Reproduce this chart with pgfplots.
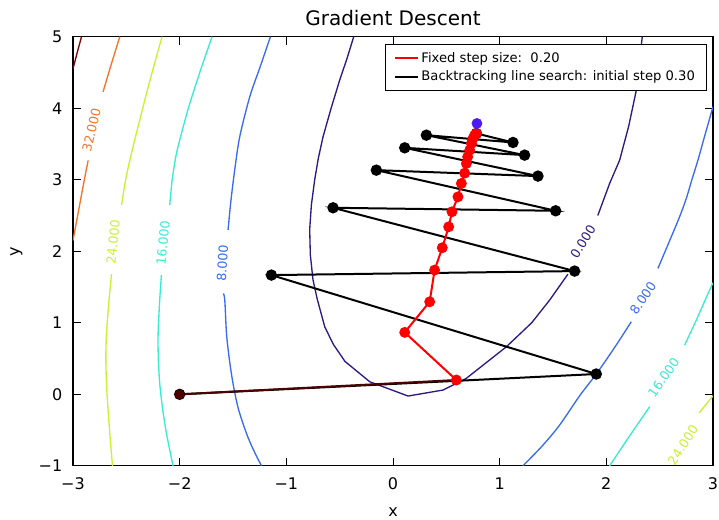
\documentclass[border=0pt]{standalone}
\usepackage{fontspec}
\setmainfont{DejaVu Sans}
\usepackage{pgfplots}
\pgfplotsset{compat=1.18}

% jet colours of the contour levels
\definecolor{c0}{rgb}{0.18,0.10,0.50}
\definecolor{c8}{rgb}{0.22,0.42,0.93}
\definecolor{c16}{rgb}{0.22,0.92,0.82}
\definecolor{c24}{rgb}{0.78,0.95,0.20}
\definecolor{c32}{rgb}{0.96,0.45,0.15}
\definecolor{c40}{rgb}{0.50,0.00,0.00}
\definecolor{optblue}{rgb}{0.30,0.10,0.95}
\definecolor{startred}{rgb}{0.30,0.00,0.00}

\begin{document}
\begin{tikzpicture}
\path[use as bounding box] (-54.75pt,-40pt) rectangle (484.5pt,349.4pt);
\begin{axis}[
  scale only axis, width=480pt, height=321.9pt,
  xmin=-3, xmax=3, ymin=-1, ymax=5,
  xtick={-3,...,3}, ytick={-1,...,5},
  xticklabels={−3,−2,−1,0,1,2,3}, yticklabels={−1,0,1,2,3,4,5},
  tick align=inside, major tick length=6pt,
  tick style={black, line width=0.6pt},
  tick label style={font=\fontsize{12}{14}\selectfont},
  xticklabel style={yshift=-5.5pt},
  yticklabel style={xshift=-4.5pt},
  axis line style={black, line width=0.8pt},
  xlabel={x}, ylabel={y},
  label style={font=\fontsize{12}{14}\selectfont},
  xlabel style={at={(axis description cs:0.5,-0.118)}, anchor=base},
  ylabel style={at={(axis description cs:-0.0886,0.5)}, anchor=center},
  title={Gradient Descent},
  title style={at={(axis description cs:0.5,1.008)}, anchor=base, font=\fontsize{15}{18}\selectfont},
  legend style={at={(axis description cs:1,1)}, anchor=north east, xshift=-4.7pt, yshift=-5.8pt,
    font=\fontsize{9.85}{12}\selectfont, draw=black, line width=0.8pt, row sep=1pt,
    inner xsep=6.5pt, inner ysep=3.5pt,
    /tikz/every even column/.append style={column sep=14pt}},
  legend cell align=left,
  contour/.style={line width=1pt, forget plot},
]

% contour level 0
\addplot[c0, contour] coordinates {(-0.368,5.0) (-0.43,4.70) (-0.5,4.392) (-0.58,4.0) (-0.656,3.6) (-0.70,3.3) (-0.734,3.0) (-0.765,2.65) (-0.781,2.306) (-0.775,1.95) (-0.75,1.6) (-0.71,1.33) (-0.64,0.945) (-0.56,0.70) (-0.45,0.46) (-0.218,0.176) (0.141,-0.024) (0.469,0.06) (0.688,0.224) (1.063,0.665) (1.30,1.0) (1.469,1.318) (1.64,1.68)};
\addplot[c0, contour] coordinates {(1.92,2.50) (2.031,2.948) (2.125,3.274) (2.21,3.75) (2.281,4.25) (2.337,5.0)};
% contour level 8
\addplot[c8, contour, smooth] coordinates {(-1.149,5.0) (-1.245,4.58) (-1.343,4.159) (-1.437,3.6) (-1.484,3.135) (-1.52,2.7) (-1.546,2.30)};
\addplot[c8, contour, smooth] coordinates {(-1.59,1.41) (-1.577,1.318) (-1.561,0.852) (-1.535,0.5) (-1.5,0.154) (-1.45,-0.2) (-1.374,-0.545) (-1.31,-0.77) (-1.233,-1.0)};
\addplot[c8, contour, smooth] coordinates {(3.0,4.02) (2.92,3.6) (2.859,3.274) (2.80,2.99) (2.75,2.739) (2.687,2.482) (2.58,2.1) (2.484,1.761)};
\addplot[c8, contour, smooth] coordinates {(2.234,1.015) (2.08,0.66) (1.906,0.284) (1.75,-0.02) (1.562,-0.43) (1.40,-0.72) (1.218,-1.0)};
% contour level 16
\addplot[c16, contour, smooth] coordinates {(-1.696,5.0) (-1.80,4.55) (-1.905,4.067) (-1.97,3.72) (-2.030,3.368) (-2.07,3.0) (-2.093,2.645)};
\addplot[c16, contour, smooth] coordinates {(-2.171,1.667) (-2.187,1.318) (-2.202,0.852) (-2.20,0.5) (-2.187,0.154) (-2.16,-0.2) (-2.124,-0.545) (-2.062,-1.0)};
\addplot[c16, contour, smooth] coordinates {(2.031,-1.0) (2.21,-0.6) (2.406,-0.173)};
\addplot[c16, contour, smooth] coordinates {(2.734,0.688) (2.844,1.038) (2.93,1.33) (3.0,1.56)};
% contour level 24
\addplot[c24, contour, smooth] coordinates {(-2.165,5.0) (-2.24,4.6) (-2.311,4.206) (-2.375,3.83) (-2.437,3.46) (-2.50,3.05) (-2.545,2.645)};
\addplot[c24, contour, smooth] coordinates {(-2.639,1.68) (-2.662,1.318) (-2.686,0.852) (-2.692,0.5) (-2.686,0.154) (-2.672,-0.2) (-2.655,-0.545) (-2.63,-1.0)};
\addplot[c24, contour] coordinates {(2.87,-0.26) (2.93,-0.15) (3.0,-0.02)};
% contour level 32
\addplot[c32, contour, smooth] coordinates {(-3.0,2.15) (-2.95,2.55) (-2.90,2.95) (-2.858,3.27)};
\addplot[c32, contour, smooth] coordinates {(-2.718,4.23) (-2.64,4.62) (-2.561,5.0)};
% contour level 40
\addplot[c40, contour, smooth] coordinates {(-3.0,4.55) (-2.96,4.78) (-2.92,5.0)};

% contour labels
\begin{scope}[every node/.style={font=\fontsize{9.5}{11}\selectfont, inner sep=0pt}]
\node[rotate=77, text=c32] at (axis cs:-2.827,3.693) {32.000};
\node[rotate=84, text=c24] at (axis cs:-2.624,2.133) {24.000};
\node[rotate=84, text=c16] at (axis cs:-2.156,2.119) {16.000};
\node[rotate=86, text=c8] at (axis cs:-1.599,1.831) {8.000};
\node[rotate=58, text=c0] at (axis cs:1.781,2.133) {0.000};
\node[rotate=56, text=c8] at (axis cs:2.343,1.342) {8.000};
\node[rotate=55, text=c16] at (axis cs:2.537,0.237) {16.000};
\node[rotate=57, text=c24] at (axis cs:2.718,-0.708) {24.000};
\end{scope}

% backtracking line search
\addplot[black, line width=1.5pt, mark=*, mark size=3.5pt, forget plot] coordinates {
  (-2.0,0.0) (1.906,0.284) (-1.140,1.667) (1.703,1.723) (-0.562,2.608) (1.525,2.566)
  (-0.156,3.134) (1.359,3.051) (0.110,3.446) (1.234,3.344) (0.313,3.623) (1.125,3.521) (0.782,3.647)};
% fixed step size
\addplot[startred, line width=1.5pt, forget plot] coordinates {(-2.0,0.0) (0.594,0.200)};
\addplot[red, line width=1.5pt, mark=*, mark size=3.3pt, forget plot] coordinates {
  (0.594,0.200) (0.110,0.866) (0.344,1.294) (0.390,1.737) (0.462,2.049) (0.522,2.342) (0.553,2.552)
  (0.609,2.761) (0.641,2.948) (0.672,3.092) (0.688,3.227) (0.700,3.320) (0.719,3.413) (0.735,3.507)
  (0.750,3.577) (0.766,3.623) (0.782,3.647)};
\addplot[only marks, mark=*, mark size=3.5pt, startred, forget plot] coordinates {(-2.0,0.0)};
\addplot[only marks, mark=*, mark size=3.8pt, optblue, forget plot] coordinates {(0.787,3.787)};

\addlegendimage{red, line width=1.5pt}
\addlegendentry{Fixed step size:\ \ 0.20}
\addlegendimage{black, line width=1.5pt}
\addlegendentry{Backtracking line search: initial step 0.30}
\end{axis}
\end{tikzpicture}
\end{document}
